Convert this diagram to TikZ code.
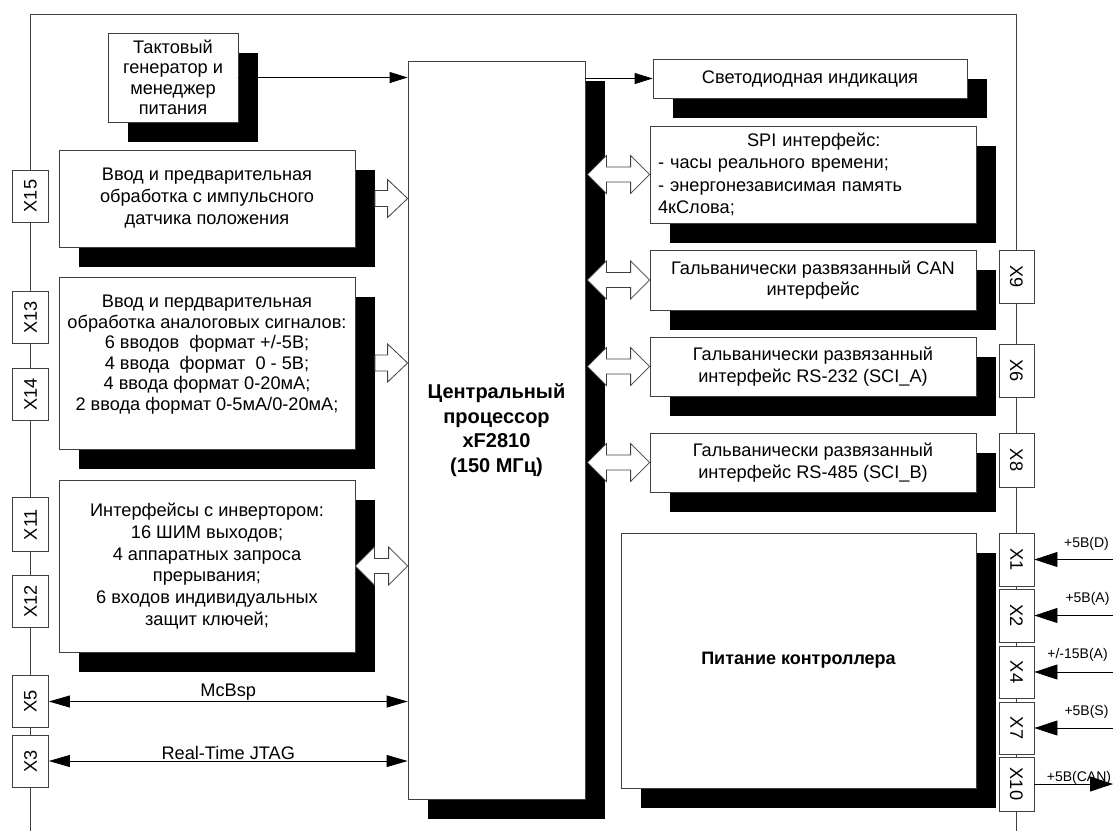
\documentclass[tikz,border=0pt]{standalone}
\usepackage{fontspec}
\setmainfont{Liberation Sans}
\usetikzlibrary{arrows.meta,calc,shadows}
\newcommand\bigR[2]{\draw[hollow] let \p1=(#1), \p2=(#2) in
 (\x1,\y1+8pt) -- (\x2-20pt,\y1+8pt) -- (\x2-20pt,\y1+19pt) -- (\x2,\y1) -- (\x2-20pt,\y1-19pt) -- (\x2-20pt,\y1-8pt) -- (\x1,\y1-8pt) -- cycle;}
\newcommand\bigLR[2]{\draw[hollow] let \p1=(#1), \p2=(#2) in
 (\x1,\y1) -- (\x1+19pt,\y1+19pt) -- (\x1+19pt,\y1+7.5pt) -- (\x2-19pt,\y1+7.5pt) -- (\x2-19pt,\y1+19pt) -- (\x2,\y1) -- (\x2-19pt,\y1-19pt) -- (\x2-19pt,\y1-7.5pt) -- (\x1+19pt,\y1-7.5pt) -- (\x1+19pt,\y1-19pt) -- cycle;}
\begin{document}
\begin{tikzpicture}[x=1pt,y=-1pt,
  every node/.style={font=\fontsize{18.2}{21.5}\selectfont},
  ln/.style={draw=black!75,line width=0.8pt},
  blk/.style={draw=black!75,line width=0.8pt,fill=white,inner sep=0pt,align=center,
     drop shadow={opacity=1,fill=black,shadow xshift=19.5pt,shadow yshift=-19.5pt}},
  stub/.style={draw=black!75,line width=0.8pt,fill=white,inner sep=0pt,minimum width=52pt,minimum height=36pt},
  hollow/.style={draw=black!75,line width=0.8pt,fill=white},
  tipC/.style={-{Triangle[length=18pt,width=11pt]}},
  tipM/.style={{Triangle[length=21pt,width=12pt]}-{Triangle[length=21pt,width=12pt]}},
  tipP/.style={-{Triangle[length=23pt,width=15pt]}},
  lbl/.style={font=\fontsize{14}{16}\selectfont,inner sep=0pt}
]
\useasboundingbox (0,0) rectangle (1113,831);
\coordinate (edge) at (1113,0);
% frame
\draw[ln] (30.5,831) -- (30.5,14) -- (1016.5,14) -- (1016.5,831);

% blocks
\node[blk,minimum width=130pt,minimum height=89pt,font=\fontsize{18.2}{20.5}\selectfont] (clock) at (173,77.5) {Тактовый\\генератор и\\менеджер\\питания};
\node[blk,minimum width=296pt,minimum height=97pt,font=\fontsize{18.2}{22}\selectfont] (enc) at (207,198.5) {Ввод и предварительная\\обработка с импульсного\\датчика положения};
\node[blk,minimum width=296pt,minimum height=172pt,font=\fontsize{18.2}{20.5}\selectfont] (ana) at (207,363) {Ввод и пердварительная\\обработка аналоговых сигналов:\\6 вводов~ формат +/-5В;\\4 ввода~ формат~ 0 - 5В;\\4 ввода формат 0-20мА;\\2 ввода формат 0-5мА/0-20мА;\\\mbox{}};
\node[blk,minimum width=296pt,minimum height=172pt,font=\fontsize{18.2}{21.8}\selectfont] (inv) at (207,566) {Интерфейсы с инвертором:\\16 ШИМ выходов;\\4 аппаратных запроса\\прерывания;\\6 входов индивидуальных\\защит ключей;};
\node[blk,minimum width=177pt,minimum height=738pt,font=\fontsize{20}{24.5}\selectfont\bfseries] (cpu) at (496.5,430) {Центральный\\процессор\\xF2810\\(150 МГц)};
\node[blk,minimum width=314pt,minimum height=39pt] (led) at (810,78.5) {Светодиодная индикация};
\node[blk,minimum width=326pt,minimum height=97pt,text width=310pt,inner xsep=8pt,align=left,font=\fontsize{18.2}{22.5}\selectfont] (spi) at (813,174.5) {\hspace*{89pt}SPI интерфейс:\\- часы реального времени;\\- энергонезависимая память\\4кСлова;};
\node[blk,minimum width=326pt,minimum height=60pt] (can) at (813,280) {Гальванически развязанный CAN\\интерфейс};
\node[blk,minimum width=326pt,minimum height=59pt] (rsa) at (813,366.5) {Гальванически развязанный\\интерфейс RS-232 (SCI\_A)};
\node[blk,minimum width=326pt,minimum height=59pt] (rsb) at (813,462.5) {Гальванически развязанный\\интерфейс RS-485 (SCI\_B)};
\node[blk,minimum width=355pt,minimum height=255pt,font=\fontsize{18}{21}\selectfont\bfseries] (pwr) at (798.5,660.5) {Питание контроллера};

% left connectors (rotate=90: .south is the right side)
\node[stub,rotate=90] (x15) at (30.5,196) {X15};
\node[stub,rotate=90] (x13) at (30.5,317.5) {X13};
\node[stub,rotate=90] (x14) at (30.5,394.5) {X14};
\node[stub,rotate=90,minimum width=54pt] (x11) at (30.5,524.5) {X11};
\node[stub,rotate=90] (x12) at (30.5,601.5) {X12};
\node[stub,rotate=90] (x5) at (30.5,701.5) {X5};
\node[stub,rotate=90] (x3) at (30.5,761) {X3};
% right connectors (rotate=-90: .north is the right side)
\node[stub,rotate=-90,minimum height=35pt,minimum width=53pt] (x9) at (1016.5,276.5) {X9};
\node[stub,rotate=-90,minimum height=35pt,minimum width=53pt] (x6) at (1016.5,370.5) {X6};
\node[stub,rotate=-90,minimum height=35pt,minimum width=54pt] (x8) at (1016.5,460) {X8};
\node[stub,rotate=-90,minimum height=35pt,minimum width=53pt] (x1) at (1016.5,559.5) {X1};
\node[stub,rotate=-90,minimum height=35pt,minimum width=53pt] (x2) at (1016.5,615.5) {X2};
\node[stub,rotate=-90,minimum height=35pt,minimum width=52pt] (x4) at (1016.5,672) {X4};
\node[stub,rotate=-90,minimum height=35pt,minimum width=52pt] (x7) at (1016.5,728) {X7};
\node[stub,rotate=-90,minimum height=35pt,minimum width=54pt] (x10) at (1016.5,784) {X10};

% thin arrows
\draw[ln,draw=black,tipC] (clock.east) -- (cpu.west |- clock.east);
\draw[ln,draw=black,tipC] (cpu.east |- led.west) -- (led.west);
\draw[ln,draw=black,tipM] (x5.south) -- (cpu.west |- x5.south) node[midway,above=1pt,inner sep=0pt] {McBsp};
\draw[ln,draw=black,tipM] (x3.south) -- (cpu.west |- x3.south) node[midway,above=1pt,inner sep=0pt] {Real-Time JTAG};

% power inputs
\draw[ln,draw=black,tipP] (x1.north -| edge) -- (x1.north);
\draw[ln,draw=black,tipP] (x2.north -| edge) -- (x2.north);
\draw[ln,draw=black,tipP] (x4.north -| edge) -- (x4.north);
\draw[ln,draw=black,tipP] (x7.north -| edge) -- (x7.north);
\draw[ln,draw=black,tipP] (x10.north) -- (x10.north -| edge);
\node[lbl] (l1) at ($(x1.north -| edge)+(-26.5,-16)$) {+5В(D)};
\node[lbl] (l2) at ($(x2.north -| edge)+(-25.5,-17)$) {+5В(A)};
\node[lbl] (l4) at ($(x4.north -| edge)+(-35.5,-17)$) {+/-15В(A)};
\node[lbl] (l7) at ($(x7.north -| edge)+(-26.5,-16)$) {+5В(S)};
\node[lbl] (l10) at ($(x10.north -| edge)+(-34,-6)$) {+5В(CAN)};

% wide bus arrows
\bigR{$(enc.east)+(19.5,0)$}{cpu.west |- enc.east}
\bigR{$(ana.east)+(19.5,0)$}{cpu.west |- ana.east}
\bigLR{inv.east}{cpu.west |- inv.east}
\bigLR{$(cpu.east |- spi.west)+(2,0)$}{spi.west}
\bigLR{$(cpu.east |- can.west)+(2,0)$}{can.west}
\bigLR{$(cpu.east |- rsa.west)+(2,0)$}{rsa.west}
\bigLR{$(cpu.east |- rsb.west)+(2,0)$}{rsb.west}
\end{tikzpicture}
\end{document}
